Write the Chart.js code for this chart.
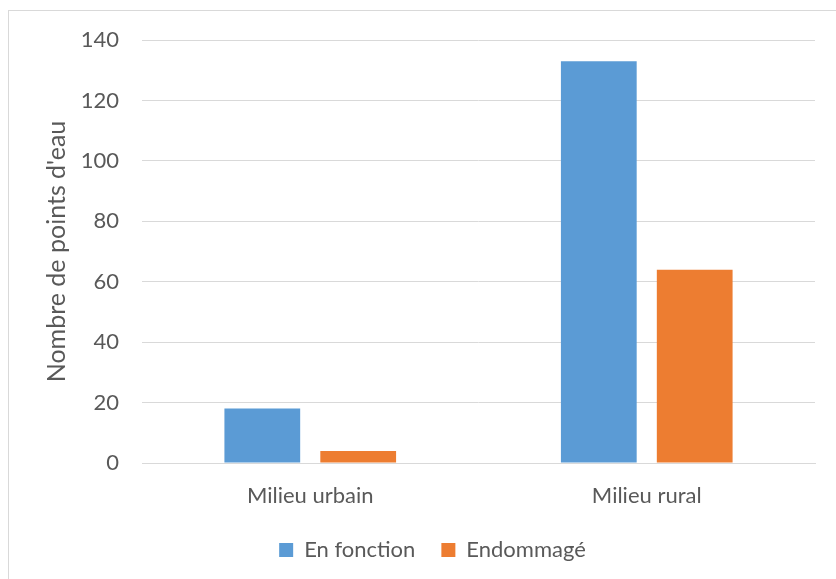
<!DOCTYPE html>
<html>
<head>
<meta charset="utf-8">
<script src="https://cdn.jsdelivr.net/npm/chart.js@4.4.1/dist/chart.umd.min.js"></script>
<style>
  html, body { margin: 0; padding: 0; background: #fff; }
  #wrap { position: relative; width: 836px; height: 579px; overflow: hidden; }
  #frame { position: absolute; left: 8px; top: 10px; width: 900px; height: 700px; border: 1px solid #d9d9d9; box-sizing: border-box; }
  canvas { position: absolute; left: 0; top: 0; }
</style>
</head>
<body>
<div id="wrap">
  <div id="frame"></div>
  <canvas id="chart" width="836" height="579"></canvas>
</div>
<script>
// données du graphique
const categories = ['Milieu urbain', 'Milieu rural'];
const enFonction = [18, 133];
const endommage = [4, 64];
const seriesNames = ['En fonction', 'Endommagé'];

const textColor = '#595959';
const fontFamily = 'Lato, "Open Sans", sans-serif';

// décale la légende pour la centrer comme dans Excel
const legendShift = {
    id: 'legendShift',
    afterLayout(chart) {
        const lg = chart.legend;
        if (lg) {
            lg.left += 25;
            lg.right += 25;
        }
    }
};

const ctx = document.getElementById('chart').getContext('2d');
const chart = new Chart(ctx, {
    type: 'bar',
    data: {
        labels: categories,
        datasets: [{
            label: seriesNames[0],
            data: enFonction,
            backgroundColor: '#5b9bd5',
            categoryPercentage: 0.57,
            barPercentage: 0.79
        }, {
            label: seriesNames[1],
            data: endommage,
            backgroundColor: '#ed7d31',
            categoryPercentage: 0.57,
            barPercentage: 0.79
        }]
    },
    options: {
        responsive: false,
        animation: false,
        layout: {
            padding: { top: 40, right: 21, bottom: 8, left: 0 }
        },
        scales: {
            x: {
                grid: { display: false, drawTicks: false },
                border: { display: true, color: '#d9d9d9' },
                ticks: {
                    color: textColor,
                    font: { family: fontFamily, size: 22 },
                    padding: 20
                },
                afterFit: function(scale) { scale.height = 50; }
            },
            y: {
                min: 0,
                max: 140,
                ticks: {
                    stepSize: 20,
                    color: textColor,
                    font: { family: fontFamily, size: 22 },
                    padding: 23
                },
                grid: { color: '#d9d9d9', drawTicks: false },
                border: { display: false },
                title: {
                    display: true,
                    text: "Nombre de points d'eau",
                    color: textColor,
                    font: { family: fontFamily, size: 25 },
                    padding: { top: 42 }
                },
                afterFit: function(scale) { scale.width = 142; }
            }
        },
        plugins: {
            legend: {
                position: 'bottom',
                labels: {
                    color: textColor,
                    font: { family: fontFamily, size: 22 },
                    boxWidth: 14,
                    boxHeight: 14,
                    padding: 26
                }
            },
            tooltip: { enabled: false }
        }
    },
    plugins: [legendShift]
});
</script>
</body>
</html>
